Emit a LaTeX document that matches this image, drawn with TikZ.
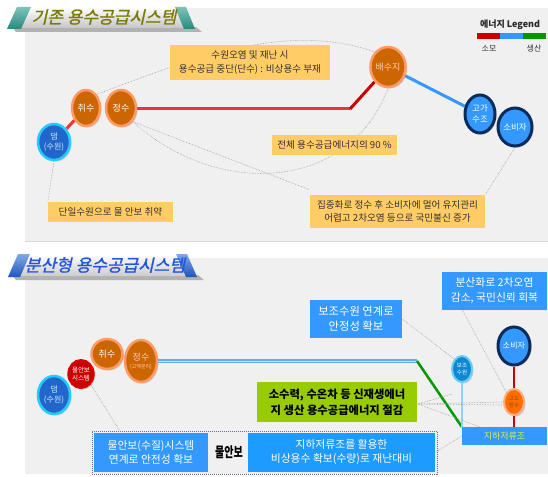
\documentclass[tikz,border=0pt]{standalone}
\usepackage{fontspec}
\setmainfont{Noto Sans CJK KR}
\newfontfamily\titlefont[FakeSlant=0.22,FakeBold=1.2]{Noto Sans CJK KR}
\usetikzlibrary{shapes.geometric,shadows,backgrounds}
\definecolor{panelgray}{HTML}{F0F0F0}
\definecolor{panelline}{HTML}{DADADA}
\definecolor{orfill}{HTML}{CC6600}
\definecolor{orborder}{HTML}{FF9966}
\definecolor{navy}{HTML}{0B2B5B}
\definecolor{nodeblue}{HTML}{3399FF}
\definecolor{damfill}{HTML}{2266CC}
\definecolor{damborder}{HTML}{22CCFF}
\definecolor{callout}{HTML}{FFCC66}
\definecolor{redline}{HTML}{EE3333}
\definecolor{darkred}{HTML}{CC0000}
\definecolor{blueline}{HTML}{3399FF}
\definecolor{bandblue}{HTML}{1E9BFF}
\definecolor{greenbox}{HTML}{99CC00}
\definecolor{greenline}{HTML}{009900}
\definecolor{tealcap}{HTML}{2A9A8A}
\definecolor{bluecap}{HTML}{2060D0}
\definecolor{olivetext}{HTML}{7A7A00}
\definecolor{titleblue}{HTML}{2255DD}
\definecolor{reservoirtext}{HTML}{DDEE33}
\definecolor{bandborder}{HTML}{6666AA}
\begin{document}
\begin{tikzpicture}[x=1pt,y=-1pt,
  shadowed/.style={drop shadow={shadow xshift=1.5pt,shadow yshift=-1.5pt,opacity=0.35}},
  ornode/.style={ellipse,fill=orfill,draw=orborder,line width=2.5pt,text=white,
     font=\fontsize{9}{10}\selectfont,inner sep=0pt,align=center,shadowed},
  bluenode/.style={ellipse,fill=nodeblue,draw=navy,line width=3pt,text=white,
     font=\fontsize{8.5}{10.5}\selectfont,inner sep=0pt,align=center,shadowed},
  damnode/.style={ellipse,fill=damfill,draw=damborder,line width=2.5pt,text=white!80!cyan,
     font=\fontsize{8}{10}\selectfont,inner sep=0pt,align=center,shadowed},
  calloutbox/.style={rectangle,fill=callout,inner sep=0pt,align=center,text=black!80,
     font=\fontsize{9.6}{14}\selectfont},
  bluebox/.style={rectangle,fill=nodeblue,inner sep=0pt,align=center,text=white,
     font=\fontsize{11.3}{15}\selectfont},
  note/.style={draw=gray!75,densely dotted,line width=0.6pt},
  legendtext/.style={font=\fontsize{8}{9}\selectfont,text=black!80}
]
\useasboundingbox (0,0) rectangle (548,476);
\begin{scope}[on background layer]
\fill[white] (0,0) rectangle (548,476);
\fill[panelgray] (25,8) rectangle (548,241);
\draw[panelline] (25,241) -- (548,241);
\fill[panelgray] (25,258) rectangle (548,474);
\end{scope}

% ---------- top banner ----------
\fill[gray!60] (12,27) -- (196,27) -- (202,32) -- (16,32) -- cycle;
\shade[top color=white,bottom color=gray!45] (24,7) -- (180,7) -- (187,28) -- (14,28) -- cycle;
\shade[top color=tealcap!60,bottom color=tealcap!90!black] (17,7) -- (31,7) -- (21,29) -- (7,29) -- cycle;
\shade[top color=tealcap!60,bottom color=tealcap!90!black] (175,7) -- (186,7) -- (195,29) -- (184,29) -- cycle;
\node[font=\titlefont\fontsize{17}{18}\selectfont,text=olivetext] (title1) at (104,17) {기존 용수공급시스템};

% ---------- bottom banner ----------
\fill[gray!60] (12,275) -- (198,275) -- (204,280) -- (16,280) -- cycle;
\shade[top color=white,bottom color=gray!40] (25,254) -- (183,254) -- (189,276) -- (15,276) -- cycle;
\shade[top color=bluecap!55,bottom color=bluecap!90!black] (18,254) -- (30,254) -- (20,277) -- (8,277) -- cycle;
\shade[top color=bluecap!55,bottom color=bluecap!90!black] (176,254) -- (187,254) -- (197,277) -- (186,277) -- cycle;
\node[font=\titlefont\fontsize{17}{18}\selectfont,text=titleblue] (title2) at (105,265) {분산형 용수공급시스템};

% ---------- legend ----------
\node[font=\fontsize{9}{10}\selectfont\bfseries,text=black!85] (legtitle) at (510,25) {에너지 Legend};
\fill[darkred] (477,33) rectangle (500,39);
\fill[blueline] (500,33) rectangle (523,39);
\fill[greenline] (523,33) rectangle (546,39);
\node[legendtext] (leg1) at (489,48) {소모};
\node[legendtext] (leg2) at (534,48) {생산};

% ---------- top nodes ----------
\node[ornode,minimum width=28pt,minimum height=36pt] (chwiT) at (86,108) {취수};
\node[ornode,minimum width=30pt,minimum height=36pt] (jeongT) at (121,108) {정수};
\node[damnode,minimum width=32pt,minimum height=36pt] (damT) at (54,142) {댐\\(수원)};
\node[ornode,minimum width=34pt,minimum height=40pt,text=orborder!50!white] (baesu) at (388,67) {배수지};
\node[bluenode,minimum width=30pt,minimum height=38pt] (gogaT) at (480,114) {고가\\수조};
\node[bluenode,minimum width=34pt,minimum height=38pt] (sobiT) at (515,127) {소비자};

% top callouts
\node[calloutbox,minimum width=160pt,minimum height=35pt] (c1) at (250,62.5) {수원오염 및 재난 시\\용수공급 중단(단수) : 비상용수 부재};
\node[calloutbox,minimum width=125pt,minimum height=20pt] (c2) at (334.5,145) {전체 용수공급에너지의 90 \%};
\node[calloutbox,minimum width=175pt,minimum height=33pt] (c3) at (397.5,211.5) {집중화로 정수 후 소비자에 멀어 유지관리\\[-1pt]어렵고 2차오염 등으로 국민불신 증가};
\node[calloutbox,minimum width=125pt,minimum height=20pt] (c4) at (110.5,212) {단일수원으로 물 안보 취약};

\coordinate (bendT) at (350,109);

% top connectors (behind nodes)
\begin{scope}[on background layer]
\draw[redline,line width=3pt] (damT) -- (chwiT);
\draw[redline,line width=3pt] (jeongT.east |- bendT) -- (bendT);
\draw[darkred,line width=3pt] (bendT) -- (baesu);
\draw[blueline,line width=3pt] (baesu) -- (gogaT);
\draw[note] (chwiT.north east) .. controls (200,55) and (290,22) .. (baesu.north west);
\draw[note] (jeongT.south east) .. controls (220,200) and (350,190) .. (baesu.south);
\draw[note] (jeongT.south east) -- ([yshift=5pt]c3.north west);
\draw[note] (sobiT.south) -- (c3.north east);
\draw[note] (damT.south) -- (c4.north west);
\end{scope}

% ---------- bottom nodes ----------
\node[damnode,minimum width=32pt,minimum height=38pt] (damB) at (54,395) {댐\\(수원)};
\node[ellipse,fill=darkred,draw=red!85!black,line width=2pt,text=white,inner sep=0pt,align=center,
   font=\fontsize{6.5}{7.5}\selectfont,minimum width=25pt,minimum height=28pt,shadowed] (anbo) at (81,374) {물안보\\시스템};
\node[ornode,minimum width=31pt,minimum height=30pt] (chwiB) at (107,354) {취수};
\node[ornode,minimum width=32pt,minimum height=42pt,font=\fontsize{9}{9}\selectfont,text=orborder!50!white] (jeongB) at (141,361) {정수\\[-1pt]{\fontsize{5}{6}\selectfont(고액분리)}};
\node[ellipse,fill=cyan!70!blue,draw=cyan!60,line width=2pt,text=white,inner sep=0pt,align=center,
   font=\fontsize{5.5}{7}\selectfont,minimum width=20pt,minimum height=26pt,shadowed] (bojo) at (462,369) {보조\\수원};
\node[bluenode,minimum width=32pt,minimum height=38pt,font=\fontsize{8}{9}\selectfont] (sobiB) at (514,346) {소비자};
\node[ellipse,fill=orange!85!red,draw=orborder!80!white,line width=2pt,text=orfill!70!black,inner sep=0pt,align=center,
   font=\fontsize{5.5}{7}\selectfont,minimum width=20pt,minimum height=26pt,shadowed] (godo) at (514,402) {고도\\정수};
\node[rectangle,fill=nodeblue,text=reservoirtext,inner sep=0pt,minimum width=85pt,minimum height=18pt,
   font=\fontsize{9}{10}\selectfont] (jeoryu) at (504.5,436) {지하저류조};

% bottom callouts
\node[bluebox,minimum width=92pt,minimum height=38pt] (b1) at (356,319) {보조수원 연계로\\안정성 확보};
\node[bluebox,minimum width=105pt,minimum height=38pt,font=\fontsize{10.8}{15}\selectfont] (b2) at (494.5,291) {분산화로 2차오염\\감소, 국민신뢰 회복};
\node[rectangle,fill=greenbox,inner sep=0pt,align=center,text=black,minimum width=160pt,minimum height=40pt,
   font=\fontsize{11.3}{16}\selectfont\bfseries] (g1) at (337,402) {소수력, 수온차 등 신재생에너\\지 생산 용수공급에너지 절감};
\node[draw=bandborder,densely dotted,line width=1pt,inner sep=0pt,minimum width=345pt,minimum height=43pt] (band) at (264.5,452.5) {};
\node[bluebox,minimum width=114pt,minimum height=39pt,font=\fontsize{10.8}{14}\selectfont] (b3) at (151,452.5) {물안보(수질)시스템\\연계로 안전성 확보};
\node[text=black] (anbotxt) at (229,452) {\scalebox{0.72}[1]{\fontsize{14}{15}\selectfont\bfseries 물안보}};
\node[bluebox,fill=bandblue,minimum width=187pt,minimum height=39pt,font=\fontsize{10.8}{14}\selectfont] (b4) at (341.5,452.5) {지하저류조를 활용한\\비상용수 확보(수량)로 재난대비};

\coordinate (bendB) at (417,361);
\coordinate (fan) at (418,404);

\begin{scope}[on background layer]
\draw[blueline!80!white,line width=3.5pt] (jeongB.east |- bendB) -- (bendB);
\draw[blueline!25!white,line width=1pt] (jeongB.east |- bendB) -- (bendB);
\draw[greenline,line width=2.5pt] (bendB) -- (jeoryu.north west);
\draw[blueline!50!white,line width=1.5pt] (bojo.south) -- (bojo.south |- jeoryu.north);
\draw[darkred,line width=2.5pt] (sobiB.south) -- (godo.north);
\draw[darkred,line width=2.5pt] (godo.south) -- (godo.south |- jeoryu.north);
\draw[note] (anbo.south east) -- ([xshift=28pt]band.north west);
\draw[note] (b1.east) -- (bojo.north west);
\draw[note] ([xshift=-32pt]b2.south) -- (godo.north west);
\draw[note] (fan) -- (godo.west);
\draw[note] (fan) -- ([yshift=-3pt]godo.west);
\draw[note] (fan) -- (452,394);
\draw[note] (fan) -- (480,427);
\draw[note] (jeoryu.west) -- (b4.east);
\end{scope}
\end{tikzpicture}
\end{document}
